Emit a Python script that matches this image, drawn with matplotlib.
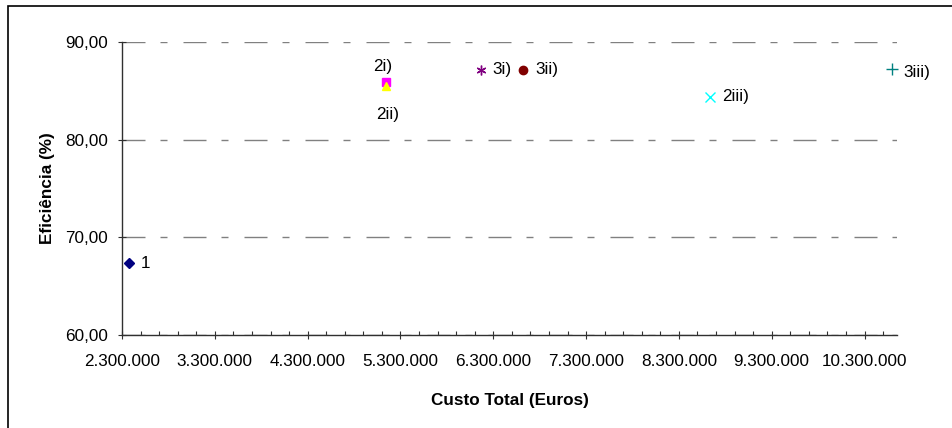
import matplotlib
matplotlib.use("Agg")
import matplotlib.pyplot as plt
from matplotlib.patches import Rectangle
from matplotlib.ticker import FuncFormatter, MultipleLocator

plt.rcParams['font.family'] = ['Liberation Sans', 'DejaVu Sans']
plt.rcParams['lines.scale_dashes'] = False

# cost (euros) vs efficiency (%) for each alternative
names = ['1', '2i)', '2ii)', '2iii)', '3i)', '3ii)', '3iii)']
custo = [2378000, 5140000, 5140000, 8640000, 6165000, 6620000, 10600000]
eficiencia = [67.33, 85.95, 85.5, 84.4, 87.15, 87.15, 87.2]

markers = ['D', 's', '^', 'x', (6, 2, 0), 'o', '+']
colors = ['#000080', '#FF00FF', '#FFFF00', '#00FFFF', '#800080', '#800000', '#008080']
sizes = [5, 6, 6, 7, 7, 6, 8]
# label offsets in pixels: (dx, dy, ha)
offsets = [(12, 0, 'left'), (-3, 15, 'center'), (2, -29, 'center'),
           (12, 0, 'left'), (12, 0, 'left'), (12, 0, 'left'), (11, -3, 'left')]

px = 0.72  # points per pixel at dpi 100

fig = plt.figure(figsize=(9.52, 4.28), dpi=100)
ax = fig.add_axes([122 / 952, 1 - 335 / 428, 775 / 952, 293 / 428])

for i in range(len(names)):
    ax.plot(custo[i], eficiencia[i], linestyle='none', marker=markers[i],
            color=colors[i], markersize=sizes[i], markeredgewidth=1.0,
            clip_on=False, zorder=3)
    dx, dy, ha = offsets[i]
    ax.annotate(names[i], (custo[i], eficiencia[i]), xytext=(dx * px, dy * px),
                textcoords='offset points', ha=ha, va='center', fontsize=12.3)

ax.set_xlim(2300000, 10650000)
ax.set_ylim(60, 90)
ax.xaxis.set_major_locator(MultipleLocator(1000000, offset=300000))
ax.xaxis.set_minor_locator(MultipleLocator(200000, offset=100000))
ax.yaxis.set_major_locator(MultipleLocator(10))
ax.xaxis.set_major_formatter(FuncFormatter(lambda v, p: f'{v:,.0f}'.replace(',', '.')))
ax.yaxis.set_major_formatter(FuncFormatter(lambda v, p: f'{v:.2f}'.replace('.', ',')))

ax.yaxis.grid(True, color='#808080', linewidth=1.0,
              linestyle=(0, (23 * px, 15 * px, 7 * px, 16 * px)))
ax.set_axisbelow(True)

for side in ['top', 'right']:
    ax.spines[side].set_visible(False)
for side in ['left', 'bottom']:
    ax.spines[side].set_color('#303030')
    ax.spines[side].set_linewidth(1.0)
    ax.spines[side].set_zorder(4)

ax.tick_params(which='major', direction='inout', length=8 * px, width=0.8,
               color='#303030', labelsize=12.3)
ax.tick_params(axis='y', which='major', pad=10 * px)
ax.tick_params(axis='x', which='major', pad=15 * px)
ax.tick_params(axis='x', which='minor', direction='in', length=4 * px, width=0.8,
               color='#303030')

ax.set_xlabel('Custo Total (Euros)', fontsize=12.3, fontweight='bold', va='center')
ax.set_ylabel('Eficiência (%)', fontsize=12.3, fontweight='bold', va='center')
ax.xaxis.set_label_coords(0.5, (335 - 400) / 293)
ax.yaxis.set_label_coords((48 - 122) / 775, 0.5)

# chart frame (only its top and left edges fall inside the image)
fig.patches.append(Rectangle((8 / 952, -0.5), 2.0, 0.5 + 1 - 6 / 428,
                             transform=fig.transFigure, fill=False,
                             edgecolor='black', linewidth=1.2))

fig.savefig('out.png', dpi=100)
